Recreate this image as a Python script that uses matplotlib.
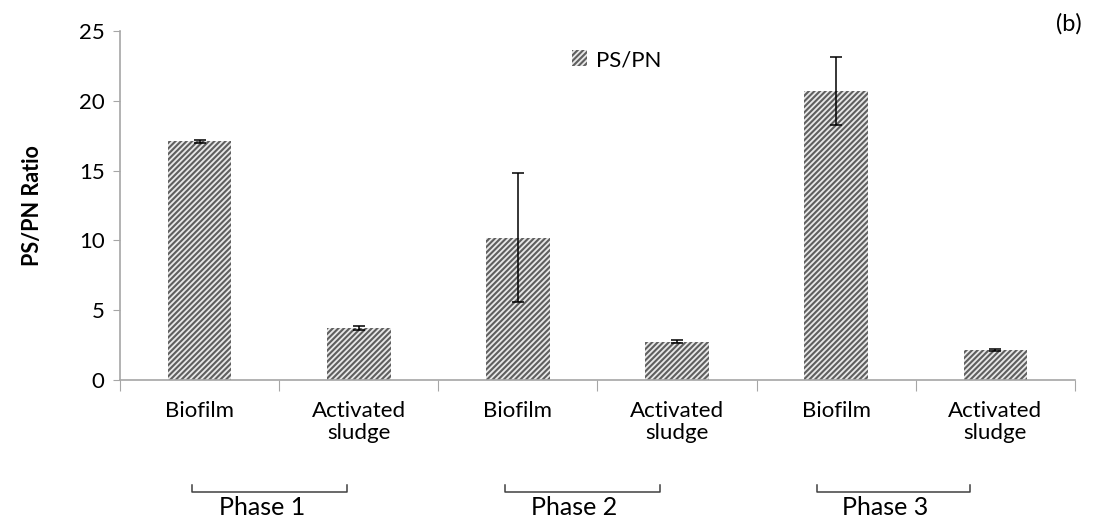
import matplotlib.pyplot as plt

# --- Data ---
categories = ['Biofilm', 'Activated\nsludge', 'Biofilm', 'Activated\nsludge', 'Biofilm', 'Activated\nsludge']
ps_pn = [17.1, 3.7, 10.2, 2.75, 20.7, 2.15]
ps_pn_err = [0.12, 0.15, 4.6, 0.1, 2.45, 0.1]
phases = ['Phase 1', 'Phase 2', 'Phase 3']

# --- Style ---
plt.rcParams['font.family'] = ['Lato', 'DejaVu Sans']
plt.rcParams['hatch.linewidth'] = 1.5
AXIS_GREY = '#a6a6a6'

fig = plt.figure(figsize=(10.93, 5.27), dpi=100)
ax = fig.add_axes([0.1098, 0.279, 0.8737, 0.662])

x = list(range(len(categories)))
# edgecolor sets the hatch colour; linewidth 0 keeps the outline off
ax.bar(x, ps_pn, width=0.4, color='#e8e8e8', edgecolor='#5f5f5f', linewidth=0,
       hatch='//////', label='PS/PN', zorder=2)
ax.errorbar(x, ps_pn, yerr=ps_pn_err, fmt='none', ecolor='black',
            elinewidth=1.1, capsize=4.5, capthick=1.1, zorder=3)

ax.set_xlim(-0.5, len(categories) - 0.5)
ax.set_ylim(0, 25)
ax.set_yticks([0, 5, 10, 15, 20, 25])
ax.tick_params(axis='y', labelsize=16, length=5, color=AXIS_GREY, pad=6)

# category ticks sit on the boundaries, labels go between them
ax.set_xticks([i - 0.5 for i in range(len(categories) + 1)])
ax.set_xticklabels([])
ax.tick_params(axis='x', length=8, color=AXIS_GREY)
for i, lab in enumerate(categories):
    ax.text(i, -0.06, lab, transform=ax.get_xaxis_transform(), ha='center', va='top',
            fontsize=16, linespacing=1.15)

for side in ['top', 'right']:
    ax.spines[side].set_visible(False)
for side in ['left', 'bottom']:
    ax.spines[side].set_color(AXIS_GREY)
    ax.spines[side].set_linewidth(1.2)

ax.set_ylabel('PS/PN Ratio', fontsize=15.5, fontweight='bold', labelpad=26)

# phase brackets under each pair of samples
bracket_spans = [(-0.045, 0.925), (1.92, 2.89), (3.88, 4.84)]
tr = ax.get_xaxis_transform()
for (x0, x1), name in zip(bracket_spans, phases):
    ax.plot([x0, x0, x1, x1], [-0.301, -0.321, -0.321, -0.301], color='#404040',
            lw=1.1, transform=tr, clip_on=False)
    ax.text((x0 + x1) / 2 - 0.05, -0.333, name, transform=tr, ha='center', va='top',
            fontsize=18)

leg = ax.legend(loc='center', bbox_to_anchor=(0.52, 0.917), frameon=False, fontsize=16,
                handlelength=0.7, handleheight=0.7, handletextpad=0.4)

fig.text(0.99, 0.955, '(b)', ha='right', va='center', fontsize=17)

fig.savefig('out.png', dpi=100)
